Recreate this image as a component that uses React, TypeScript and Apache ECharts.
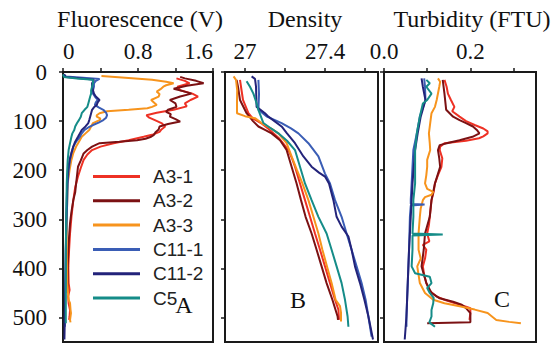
import React, { useEffect, useRef } from "react";
import * as echarts from "echarts";

// [depth (m), value] pairs
const stationNames = ["A3-1", "A3-2", "A3-3", "C11-1", "C11-2", "C5"];
const stationColors = ["#ee3124", "#7b1113", "#f7941d", "#3a5db5", "#23237a", "#158c88"];

const fluA31 = [[13,1.21],[18,1.3],[23,1.35],[30,1.22],[37,1.25],[44,1.38],[50,1.44],[57,1.36],[64,1.3],[70,1.32],[77,1.18],[83,1.0],[88,0.89],[93,0.92],[98,0.98],[104,1.05],[111,1.09],[117,1.05],[122,1.03],[128,0.95],[132,0.86],[139,0.7],[145,0.54],[152,0.4],[159,0.31],[168,0.26],[179,0.22],[195,0.19],[213,0.16],[235,0.13],[261,0.11],[295,0.09],[329,0.075],[362,0.065],[397,0.057],[430,0.06],[444,0.07],[457,0.055],[471,0.06],[485,0.075],[498,0.07],[505,0.065]];
const fluA32 = [[10,1.25],[13,1.3],[18,1.42],[23,1.5],[28,1.32],[34,1.18],[39,1.28],[44,1.37],[50,1.25],[57,1.14],[64,1.2],[71,1.21],[77,1.12],[81,1.1],[86,1.15],[91,1.14],[96,1.2],[101,1.25],[106,1.12],[111,1.03],[117,1.02],[122,0.99],[128,0.97],[132,0.94],[136,0.88],[139,0.79],[142,0.6],[145,0.39],[152,0.31],[159,0.26],[166,0.22],[180,0.19],[193,0.16],[210,0.15],[227,0.14],[245,0.13],[261,0.11],[285,0.09],[308,0.075],[335,0.065],[362,0.057],[396,0.05],[430,0.05],[450,0.05]];
const fluA33 = [[8,0.41],[12,0.7],[16,0.95],[20,1.1],[23,1.18],[27,1.1],[30,1.07],[35,1.04],[40,1.0],[45,1.03],[50,1.02],[57,0.94],[62,0.97],[67,1.0],[71,0.95],[74,0.9],[77,0.7],[80,0.47],[84,0.39],[88,0.36],[91,0.36],[95,0.4],[98,0.39],[104,0.32],[111,0.3],[118,0.28],[125,0.24],[132,0.2],[142,0.17],[152,0.14],[165,0.11],[179,0.09],[200,0.07],[227,0.05],[261,0.045],[295,0.04],[362,0.04],[430,0.045],[464,0.06],[471,0.075],[484,0.08],[491,0.085],[505,0.075],[510,0.08]];
const fluC111 = [[5,0.01],[9,0.03],[12,0.25],[14,0.39],[18,0.35],[23,0.33],[30,0.33],[37,0.32],[44,0.32],[50,0.34],[57,0.37],[62,0.35],[67,0.34],[72,0.38],[77,0.43],[83,0.46],[88,0.47],[93,0.46],[98,0.43],[103,0.38],[108,0.32],[113,0.27],[118,0.23],[125,0.2],[132,0.18],[142,0.14],[152,0.11],[165,0.09],[179,0.075],[200,0.06],[227,0.05],[295,0.04],[362,0.03],[430,0.025],[498,0.02],[519,0.02]];
const fluC112 = [[5,0.01],[10,0.03],[13,0.2],[16,0.33],[23,0.31],[30,0.31],[37,0.32],[44,0.33],[50,0.35],[57,0.39],[62,0.37],[67,0.36],[72,0.33],[77,0.31],[84,0.3],[91,0.29],[98,0.28],[104,0.27],[111,0.24],[118,0.2],[125,0.18],[132,0.16],[142,0.13],[152,0.11],[165,0.09],[179,0.07],[200,0.055],[227,0.045],[295,0.035],[362,0.03],[430,0.025],[498,0.02],[545,0.015]];
const fluC5 = [[5,0.0],[10,0.01],[13,0.15],[16,0.32],[23,0.32],[30,0.31],[37,0.3],[44,0.3],[50,0.29],[57,0.28],[64,0.27],[71,0.26],[77,0.23],[84,0.2],[91,0.19],[98,0.17],[104,0.15],[111,0.13],[118,0.12],[125,0.1],[132,0.09],[145,0.075],[159,0.06],[180,0.05],[200,0.045],[227,0.04],[295,0.035],[362,0.03],[430,0.03],[498,0.03],[512,0.03]];

const denA31 = [[16,26.975],[30,26.98],[57,26.99],[84,27.017],[95,27.04],[104,27.08],[115,27.115],[125,27.142],[135,27.17],[145,27.19],[159,27.217],[176,27.235],[193,27.25],[227,27.275],[261,27.3],[295,27.325],[329,27.35],[362,27.375],[396,27.4],[430,27.425],[464,27.45],[484,27.467],[505,27.47]];
const denA32 = [[16,26.958],[30,26.965],[57,26.975],[84,27.008],[100,27.04],[111,27.067],[118,27.1],[125,27.133],[139,27.175],[159,27.208],[193,27.233],[227,27.258],[261,27.28],[295,27.303],[329,27.333],[362,27.358],[396,27.383],[430,27.408],[464,27.437],[498,27.463],[505,27.465]];
const denA33 = [[9,26.943],[16,26.955],[37,26.961],[60,26.96],[84,26.96],[90,27.0],[94,27.05],[104,27.083],[115,27.13],[125,27.167],[145,27.208],[172,27.233],[200,27.26],[227,27.287],[261,27.317],[295,27.342],[329,27.367],[362,27.387],[396,27.41],[430,27.433],[464,27.453],[477,27.475],[490,27.48],[508,27.48]];
const denC111 = [[16,27.067],[45,27.07],[77,27.067],[91,27.11],[98,27.15],[104,27.183],[115,27.23],[125,27.267],[145,27.317],[172,27.367],[207,27.4],[227,27.425],[261,27.45],[295,27.483],[329,27.508],[362,27.533],[396,27.558],[430,27.583],[464,27.603],[498,27.617],[539,27.633]];
const denC112 = [[9,27.033],[14,27.05],[30,27.055],[71,27.058],[84,27.1],[91,27.117],[111,27.183],[125,27.21],[145,27.25],[172,27.292],[193,27.333],[205,27.37],[213,27.4],[227,27.42],[261,27.442],[295,27.458],[315,27.483],[335,27.517],[362,27.533],[396,27.55],[430,27.575],[464,27.597],[498,27.617],[545,27.64]];
const denC5 = [[19,27.008],[30,27.025],[44,27.042],[60,27.055],[77,27.067],[104,27.092],[115,27.13],[125,27.167],[140,27.21],[159,27.25],[193,27.275],[227,27.3],[261,27.333],[295,27.367],[329,27.408],[362,27.433],[396,27.458],[430,27.483],[464,27.5],[498,27.513],[519,27.517]];

const turA31 = [[16,0.14],[30,0.145],[44,0.148],[57,0.155],[71,0.163],[80,0.158],[91,0.175],[100,0.19],[108,0.21],[115,0.23],[121,0.24],[125,0.24],[131,0.23],[135,0.22],[140,0.19],[145,0.14],[152,0.13],[159,0.129],[176,0.135],[193,0.133],[210,0.125],[227,0.118],[244,0.115],[261,0.11],[278,0.108],[295,0.106],[312,0.104],[329,0.1],[345,0.105],[352,0.09],[362,0.098],[380,0.095],[396,0.09],[413,0.093],[430,0.098],[445,0.105],[457,0.121],[464,0.14],[471,0.165],[478,0.19],[481,0.2],[491,0.2],[505,0.198]];
const turA32 = [[16,0.136],[44,0.14],[77,0.144],[91,0.16],[98,0.175],[104,0.19],[111,0.206],[118,0.215],[125,0.221],[132,0.205],[139,0.175],[144,0.15],[149,0.129],[159,0.125],[176,0.128],[193,0.13],[227,0.118],[261,0.11],[295,0.106],[329,0.095],[362,0.092],[396,0.087],[430,0.098],[450,0.11],[461,0.129],[468,0.16],[474,0.18],[481,0.19],[491,0.2],[508,0.2],[510,0.2],[512,0.1]];
const turA33 = [[13,0.125],[20,0.13],[30,0.128],[57,0.122],[71,0.118],[84,0.11],[104,0.107],[125,0.104],[145,0.106],[159,0.107],[179,0.1],[193,0.1],[210,0.098],[227,0.095],[238,0.1],[244,0.114],[250,0.11],[255,0.095],[261,0.09],[278,0.085],[295,0.083],[329,0.08],[362,0.08],[380,0.085],[396,0.077],[430,0.083],[450,0.095],[464,0.114],[471,0.14],[477,0.175],[484,0.21],[491,0.24],[498,0.25],[505,0.26],[509,0.29],[512,0.317]];
const turC111 = [[13,0.093],[30,0.095],[57,0.096],[91,0.083],[125,0.076],[159,0.068],[193,0.066],[227,0.064],[260,0.062],[269,0.062],[270,0.094],[272,0.062],[295,0.06],[362,0.058],[430,0.055],[498,0.052],[519,0.052]];
const turC112 = [[13,0.087],[30,0.09],[57,0.096],[91,0.085],[125,0.078],[159,0.072],[227,0.066],[295,0.062],[362,0.058],[430,0.055],[498,0.052],[545,0.048]];
const turC5 = [[16,0.098],[23,0.106],[30,0.098],[44,0.11],[57,0.1],[64,0.09],[91,0.083],[125,0.076],[159,0.072],[227,0.072],[261,0.068],[295,0.068],[329,0.066],[331,0.136],[333,0.066],[362,0.066],[396,0.064],[410,0.072],[417,0.106],[430,0.11],[440,0.1],[450,0.106],[460,0.115],[471,0.114],[485,0.11],[498,0.11],[510,0.105],[519,0.118]];

const depthTicks = [0, 100, 200, 300, 400, 500];
const fluTicks = [0, 0.4, 0.8, 1.2, 1.6];
const fluLabels = [0, 0.8, 1.6];
const denTicks = [27, 27.2, 27.4, 27.6];
const denLabels = [27, 27.4];
const turTicks = [0, 0.1, 0.2, 0.3];
const turLabels = [0, 0.2];

const panelTitles = ["Fluorescence (V)", "Density", "Turbidity (FTU)"];
const panelLetters = ["A", "B", "C"];

const fluSets = [fluA31, fluA32, fluA33, fluC111, fluC112, fluC5];
const denSets = [denA31, denA32, denA33, denC111, denC112, denC5];
const turSets = [turA31, turA32, turA33, turC111, turC112, turC5];

const INK = "#1a1a1a";
const SERIF = "'Liberation Serif', 'DejaVu Serif', serif";
const SANS = "'Liberation Sans', Arial, sans-serif";

export default function App() {
  const ref = useRef<HTMLDivElement>(null);
  useEffect(() => {
    if (!ref.current) return;
    const chart = echarts.init(ref.current, null, { renderer: "svg" });

    const grids = [
      { left: 63, top: 72, width: 150, height: 270 },
      { left: 225, top: 72, width: 153, height: 270 },
      { left: 384, top: 72, width: 152, height: 270 },
    ].map((g) => ({ ...g, show: true, borderColor: INK, borderWidth: 2, containLabel: false }));

    const xDefs = [
      { min: 0, max: 1.6, ticks: fluTicks, labels: fluLabels, fmt: (v: number) => String(+v.toFixed(1)), alignMin: "left", alignMax: "right" },
      { min: 26.9, max: 27.665, ticks: denTicks, labels: denLabels, fmt: (v: number) => String(+v.toFixed(1)), alignMin: "center", alignMax: "center" },
      { min: 0, max: 0.352, ticks: turTicks, labels: turLabels, fmt: (v: number) => v.toFixed(1), alignMin: "center", alignMax: "center" },
    ];

    const xAxis = xDefs.map((d, i) => ({
      type: "value",
      gridIndex: i,
      position: "top",
      min: d.min,
      max: d.max,
      axisLine: { show: true, onZero: false, lineStyle: { color: INK, width: 2 } },
      axisTick: { show: true, inside: false, length: 4, lineStyle: { color: INK, width: 1.5 }, customValues: d.ticks },
      axisLabel: {
        customValues: d.labels,
        formatter: d.fmt,
        fontFamily: SERIF,
        fontSize: 23,
        color: "#111",
        margin: 9,
        showMinLabel: true,
        showMaxLabel: true,
        alignMinLabel: d.alignMin,
        alignMaxLabel: d.alignMax,
      },
      splitLine: { show: false },
    }));

    const yAxis = [0, 1, 2].map((i) => ({
      type: "value",
      gridIndex: i,
      inverse: true,
      min: 0,
      max: 550,
      axisLine: { show: true, onZero: false, lineStyle: { color: INK, width: 2 } },
      axisTick: { show: true, inside: false, length: 4, lineStyle: { color: INK, width: 1.5 }, customValues: depthTicks },
      axisLabel: {
        show: i === 0,
        customValues: depthTicks,
        fontFamily: SERIF,
        fontSize: 23,
        color: "#111",
        margin: 16,
      },
      splitLine: { show: false },
    }));

    const series: any[] = [];
    [fluSets, denSets, turSets].forEach((sets, p) => {
      sets.forEach((arr, s) => {
        series.push({
          type: "line",
          name: stationNames[s],
          xAxisIndex: p,
          yAxisIndex: p,
          data: arr.map(([d, v]) => [v, d]),
          symbol: "none",
          showSymbol: false,
          clip: true,
          lineStyle: { width: 2, color: stationColors[s] },
          itemStyle: { color: stationColors[s] },
        });
      });
    });

    const graphic: any[] = [];
    const titleX = [140, 305, 472];
    panelTitles.forEach((t, i) => {
      graphic.push({
        type: "text",
        x: titleX[i],
        y: 19,
        style: { text: t, font: `24px ${SERIF}`, fill: "#111", align: "center", verticalAlign: "middle" },
      });
    });
    const letterPos = [[184, 305], [298, 300], [502, 299]];
    panelLetters.forEach((t, i) => {
      graphic.push({
        type: "text",
        x: letterPos[i][0],
        y: letterPos[i][1],
        style: { text: t, font: `24px ${SERIF}`, fill: "#111", align: "center", verticalAlign: "middle" },
      });
    });

    chart.setOption({
      animation: false,
      backgroundColor: "#ffffff",
      grid: grids,
      xAxis,
      yAxis,
      legend: {
        orient: "vertical",
        left: 88,
        top: 162,
        icon: "rect",
        itemWidth: 47,
        itemHeight: 3,
        itemGap: 5.3,
        selectedMode: false,
        data: stationNames,
        textStyle: { fontFamily: SANS, fontSize: 19, lineHeight: 19, color: "#222", padding: [0, 0, 0, 8] },
      },
      graphic,
      series,
    });
    return () => chart.dispose();
  }, []);
  return <div ref={ref} style={{ position: "fixed", left: 0, top: 0, width: 560, height: 344 }} />;
}
